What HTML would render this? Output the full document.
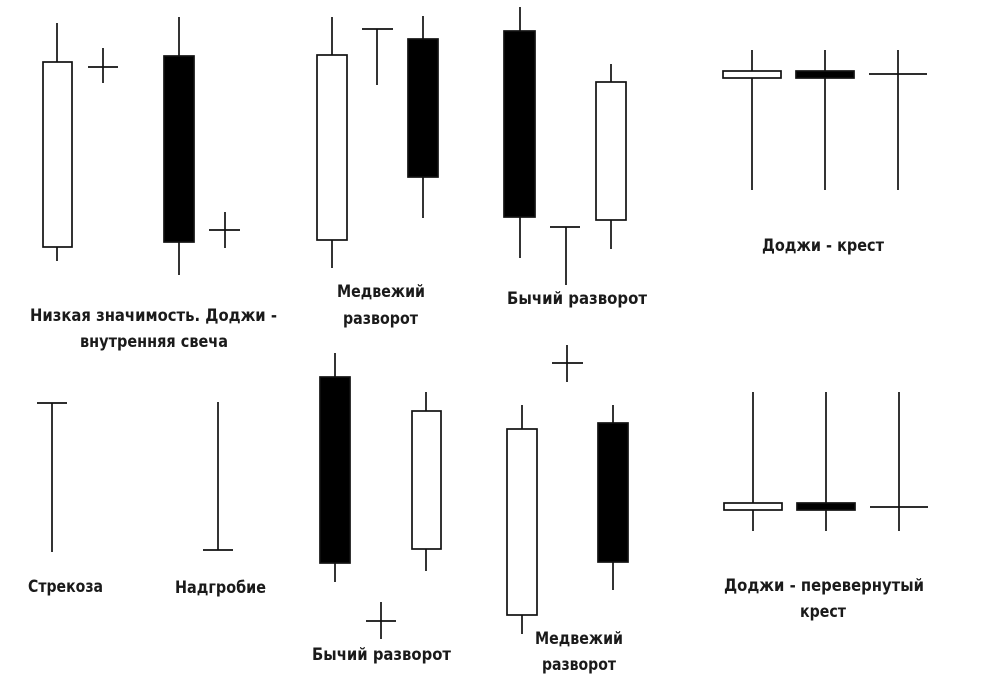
<!DOCTYPE html>
<html><head><meta charset="utf-8"><style>
html,body{margin:0;padding:0;background:#fff;}
svg{display:block}
text{font-family:"DejaVu Sans","Liberation Sans",sans-serif;font-size:17px;font-weight:bold;fill:#1a1a1a;}
</style></head><body>
<svg width="1000" height="692" viewBox="0 0 1000 692" xmlns="http://www.w3.org/2000/svg">
<g stroke="#111" stroke-width="1.7" fill="none">
<line x1="57" y1="23" x2="57" y2="261"/><rect x="43" y="62" width="29" height="185" fill="#fff"/>
<line x1="88" y1="67" x2="118" y2="67"/><line x1="103" y1="48" x2="103" y2="83"/>
<line x1="179" y1="17" x2="179" y2="275"/><rect x="164" y="56" width="30" height="186" fill="#000"/>
<line x1="209" y1="230" x2="240" y2="230"/><line x1="225" y1="212" x2="225" y2="248"/>
<line x1="332" y1="17" x2="332" y2="268"/><rect x="317" y="55" width="30" height="185" fill="#fff"/>
<line x1="362" y1="29" x2="393" y2="29"/><line x1="377" y1="29" x2="377" y2="85"/>
<line x1="423" y1="16" x2="423" y2="218"/><rect x="408" y="39" width="30" height="138" fill="#000"/>
<line x1="520" y1="7" x2="520" y2="258"/><rect x="504" y="31" width="31" height="186" fill="#000"/>
<line x1="550" y1="227" x2="580" y2="227"/><line x1="566" y1="227" x2="566" y2="285"/>
<line x1="611" y1="64" x2="611" y2="249"/><rect x="596" y="82" width="30" height="138" fill="#fff"/>
<line x1="752" y1="50" x2="752" y2="190"/><rect x="723" y="71" width="58" height="7" fill="#fff"/>
<line x1="825" y1="50" x2="825" y2="190"/><rect x="796" y="71" width="58" height="7" fill="#000"/>
<line x1="898" y1="50" x2="898" y2="190"/><line x1="869" y1="74" x2="927" y2="74"/>
<line x1="37" y1="403" x2="67" y2="403"/><line x1="52" y1="403" x2="52" y2="552"/>
<line x1="218" y1="402" x2="218" y2="550"/><line x1="203" y1="550" x2="233" y2="550"/>
<line x1="335" y1="353" x2="335" y2="582"/><rect x="320" y="377" width="30" height="186" fill="#000"/>
<line x1="426" y1="392" x2="426" y2="571"/><rect x="412" y="411" width="29" height="138" fill="#fff"/>
<line x1="366" y1="621" x2="396" y2="621"/><line x1="381" y1="602" x2="381" y2="639"/>
<line x1="552" y1="363" x2="583" y2="363"/><line x1="567" y1="345" x2="567" y2="382"/>
<line x1="522" y1="405" x2="522" y2="634"/><rect x="507" y="429" width="30" height="186" fill="#fff"/>
<line x1="613" y1="405" x2="613" y2="590"/><rect x="598" y="423" width="30" height="139" fill="#000"/>
<line x1="753" y1="392" x2="753" y2="531"/><rect x="724" y="503" width="58" height="7" fill="#fff"/>
<line x1="826" y1="392" x2="826" y2="531"/><rect x="797" y="503" width="58" height="7" fill="#000"/>
<line x1="899" y1="392" x2="899" y2="531"/><line x1="870" y1="507" x2="928" y2="507"/>
</g>
<g>
<text x="30" y="321" textLength="247" lengthAdjust="spacingAndGlyphs">Низкая значимость. Доджи -</text>
<text x="80" y="347" textLength="148" lengthAdjust="spacingAndGlyphs">внутренняя свеча</text>
<text x="337" y="297" textLength="88" lengthAdjust="spacingAndGlyphs">Медвежий</text>
<text x="343" y="324" textLength="75" lengthAdjust="spacingAndGlyphs">разворот</text>
<text x="507" y="304" textLength="140" lengthAdjust="spacingAndGlyphs">Бычий разворот</text>
<text x="762" y="251" textLength="122" lengthAdjust="spacingAndGlyphs">Доджи - крест</text>
<text x="28" y="592" textLength="75" lengthAdjust="spacingAndGlyphs">Стрекоза</text>
<text x="175" y="593" textLength="91" lengthAdjust="spacingAndGlyphs">Надгробие</text>
<text x="312" y="660" textLength="139" lengthAdjust="spacingAndGlyphs">Бычий разворот</text>
<text x="535" y="644" textLength="88" lengthAdjust="spacingAndGlyphs">Медвежий</text>
<text x="542" y="670" textLength="74" lengthAdjust="spacingAndGlyphs">разворот</text>
<text x="724" y="591" textLength="200" lengthAdjust="spacingAndGlyphs">Доджи - перевернутый</text>
<text x="800" y="617" textLength="46" lengthAdjust="spacingAndGlyphs">крест</text>
</g>
</svg>
</body></html>
